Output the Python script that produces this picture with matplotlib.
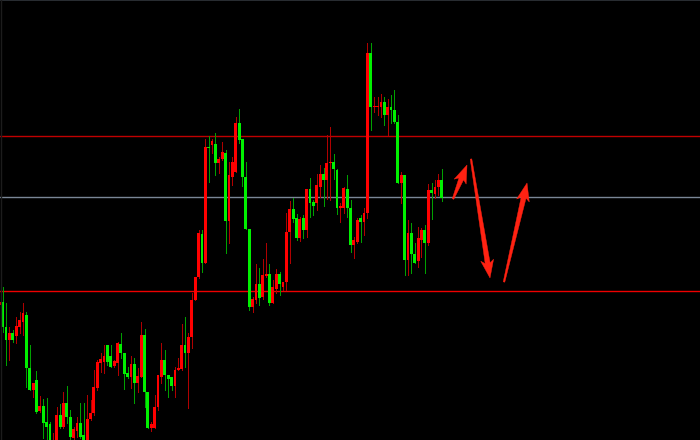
import matplotlib
matplotlib.use("Agg")
import matplotlib.pyplot as plt
import numpy as np
from matplotlib.patches import Polygon

# OHLC data (price units)
opens = [135,138,113,100,107,104,113,118,125,72,50,60,29,34,18,16,-8,-3,25,13,37,23,2,9,17,5,0,
         21,27,52,77,78,95,84,74,77,96,87,67,63,76,57,63,105,48,12,12,33,63,80,65,63,54,
         70,71,95,87,103,140,163,206,177,293,295,296,277,281,287,219,263,268,317,301,263,211,
         133,140,156,143,164,166,137,151,166,153,158,208,231,222,202,222,210,251,238,237,253,
         266,260,277,278,270,232,232,251,232,195,198,222,218,227,387,333,333,333,338,325,333,
         330,318,257,265,180,207,186,179,200,210,197,250,246,253,260]
highs = [140,153,137,113,110,123,128,137,128,95,57,69,44,41,42,18,7,33,36,48,54,30,13,23,37,37,45,
         40,70,80,87,95,95,95,80,98,107,87,73,84,82,72,118,111,48,18,45,65,97,90,65,63,73,
         82,116,123,107,147,163,210,210,301,304,301,307,283,298,290,278,283,323,331,301,278,211,
         143,176,172,181,197,176,160,171,168,158,227,239,242,226,223,225,251,262,240,266,275,
         272,305,313,286,271,237,253,265,240,203,222,225,232,397,397,343,343,346,343,341,345,
         350,325,268,265,220,217,197,213,212,215,256,257,260,266,271]
lows = [128,108,75,80,98,97,107,105,53,50,43,27,28,2,0,-5,-12,-6,12,12,17,-2,-3,3,2,-3,-2,
        20,25,50,68,67,75,73,73,65,82,51,62,52,37,48,63,33,12,9,12,30,57,50,43,50,43,
        70,70,73,32,92,140,162,168,177,258,287,265,267,280,187,197,255,268,297,254,211,130,
        128,137,135,141,163,135,137,147,145,150,150,177,218,200,199,202,203,223,225,230,243,
        234,241,240,261,226,218,227,223,188,182,197,198,205,222,310,328,325,323,315,305,317,
        317,257,237,165,165,167,177,173,183,167,195,221,242,245,239]
closes = [138,113,100,107,100,114,120,127,72,50,57,28,34,17,13,-2,-2,25,13,37,23,3,11,17,3,-1,21,
          27,53,78,81,84,78,73,79,97,87,66,63,76,57,64,105,48,12,16,33,65,80,65,61,54,70,
          72,95,87,103,140,163,207,177,293,292,299,277,281,288,219,265,278,317,300,263,211,133,
          141,156,142,165,166,137,153,166,156,158,208,231,221,202,221,210,251,237,234,255,266,
          260,277,278,271,232,234,252,232,195,200,220,218,227,387,333,334,334,338,325,333,330,
          318,257,265,180,207,186,177,202,210,197,250,247,253,260,242]

# horizontal levels and hand-drawn arrows (data coordinates)
level_top = 304.5
level_mid = 243.5
level_low = 149.5
arrows = [((134.34, 241), (138.49, 275)),
          ((139.67, 281), (145.30, 162)),
          ((149.44, 158), (156.26, 257))]

n = len(opens)
x = np.arange(n)
o = np.array(opens, float); h = np.array(highs, float)
l = np.array(lows, float); c = np.array(closes, float)
up = c >= o

fig = plt.figure(figsize=(7, 4.4), dpi=100, facecolor="black")
ax = fig.add_axes([0, 0, 1, 1])
ax.set_facecolor("black")
ax.set_xlim(0.2, 207.48)
ax.set_ylim(0, 440)
ax.axis("off")

# levels
ax.axhline(level_top, color="#c00000", lw=1.0, zorder=1)
ax.axhline(level_mid, color="#7a8696", lw=1.0, zorder=1)
ax.axhline(level_low, color="#ee0000", lw=1.0, zorder=1)

wick_up = "#b00000"
wick_dn = "#00a000"
body_up = "#ff0000"
body_dn = "#00f000"

ax.vlines(x[up], l[up], h[up], color=wick_up, lw=0.7, zorder=2, antialiased=False)
ax.vlines(x[~up], l[~up], h[~up], color=wick_dn, lw=0.7, zorder=2, antialiased=False)

bh = np.maximum(np.abs(c - o), 1.5)
bb = np.minimum(o, c)
ax.bar(x[up], bh[up], bottom=bb[up], width=0.84, color=body_up, lw=0, zorder=3,
       antialiased=False)
ax.bar(x[~up], bh[~up], bottom=bb[~up], width=0.84, color=body_dn, lw=0, zorder=3,
       antialiased=False)

# borders
fig.add_artist(plt.Line2D([0, 1], [0.999, 0.999], color="#2a2e33", lw=0.7, transform=fig.transFigure))
fig.add_artist(plt.Line2D([0.001, 0.001], [0, 1], color="#1c1c1c", lw=1.0, transform=fig.transFigure))

# arrows (tapered, drawn in pixel space)
fig.canvas.draw()
inv = ax.transData.inverted()
for (tail, tip) in arrows:
    p0 = ax.transData.transform(tail)
    p1 = ax.transData.transform(tip)
    d = p1 - p0
    L = np.hypot(*d)
    u = d / L
    nrm = np.array([-u[1], u[0]])
    head_len = 15.0
    neck = p1 - u * head_len
    barb = p1 - u * (head_len + 3)
    pts = [p0 + nrm * 0.8, neck + nrm * 2.5, barb + nrm * 6.5, p1,
           barb - nrm * 6.5, neck - nrm * 2.5, p0 - nrm * 0.8]
    dpts = inv.transform(np.array(pts))
    ax.add_patch(Polygon(dpts, closed=True, facecolor="#ff2212", edgecolor="#ff2212",
                         lw=0.3, zorder=5))

fig.savefig("out.png", dpi=100, facecolor="black")
